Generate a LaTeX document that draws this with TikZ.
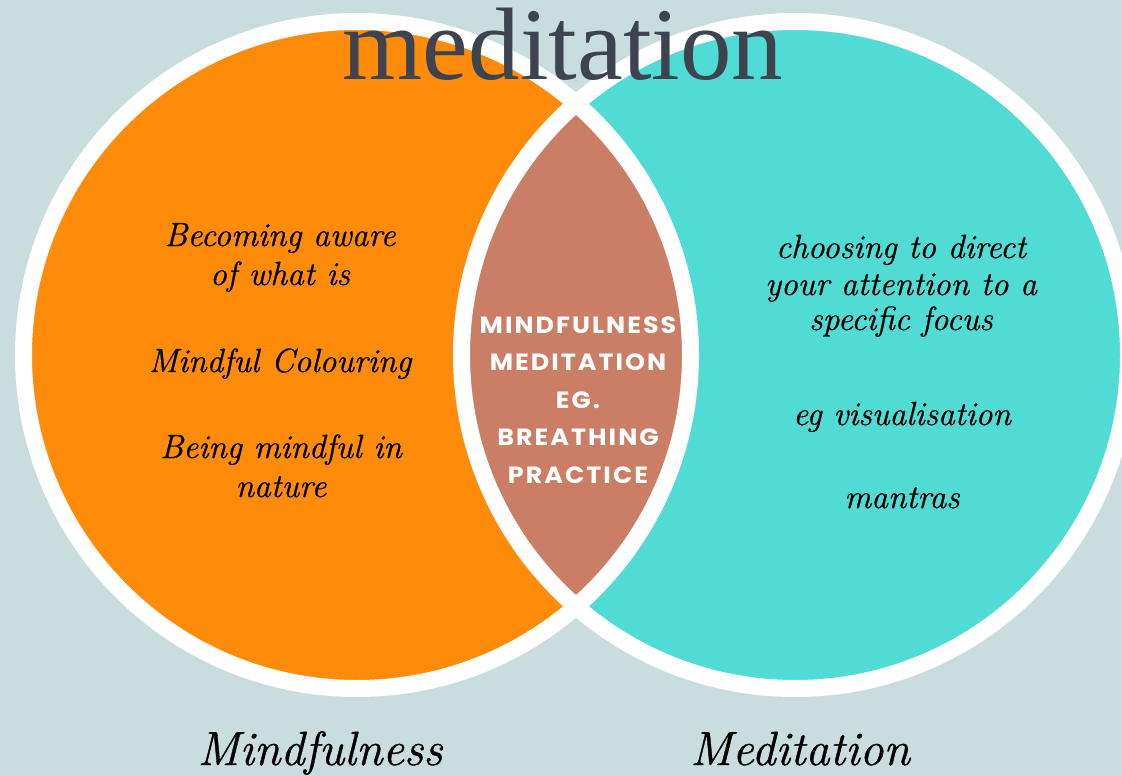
\documentclass[tikz,border=0pt]{standalone}
\usepackage{fontspec}
\newfontfamily\titlefont{Liberation Serif}
\newfontfamily\capsfont[LetterSpace=8]{Poppins}
\newfontfamily\itfont[FakeBold=0.8]{Latin Modern Roman}
\definecolor{bgc}{RGB}{201,220,222}
\definecolor{orangec}{RGB}{255,139,10}
\definecolor{cyanc}{RGB}{80,219,213}
\definecolor{brownc}{RGB}{202,126,101}
\definecolor{titlec}{RGB}{62,67,80}
\tikzset{
  ring/.style={draw=white, line width=17pt},
  itext/.style={anchor=base, inner sep=0pt, text=black, font=\itfont\fontsize{33.5}{40}\selectfont\itshape},
  ctext/.style={anchor=base, inner sep=0pt, text=white, xscale=1.08, font=\capsfont\bfseries\fontsize{23.5}{26}\selectfont},
  blabel/.style={anchor=base, inner sep=0pt, text=black, font=\itfont\fontsize{48}{56}\selectfont\itshape},
}
\begin{document}
\begin{tikzpicture}[x=1pt,y=-1pt]
\fill[bgc] (0,0) rectangle (1122,776);
\useasboundingbox (0,0) rectangle (1122,776);
\coordinate (L) at (357,355);
\coordinate (R) at (795,355);
\fill[orangec] (L) circle[radius=333.5];
\fill[cyanc] (R) circle[radius=333.5];
\begin{scope}
  \clip (L) circle[radius=333.5];
  \fill[brownc] (R) circle[radius=333.5];
\end{scope}
\draw[ring] (L) circle[radius=333.5];
\draw[ring] (R) circle[radius=333.5];
\node[anchor=base, inner sep=0pt, text=titlec, font=\titlefont\fontsize{103}{104}\selectfont] (title) at (563,79) {meditation};
% left
\node[itext] (l1) at (280,246) {Becoming aware};
\node[itext] (l2) at (280,285) {of what is};
\node[itext] (l3) at (280,372) {Mindful Colouring};
\node[itext] (l4) at (281,458) {Being mindful in};
\node[itext] (l5) at (281,497) {nature};
% right
\node[itext] (r1) at (901,258) {choosing to direct};
\node[itext] (r2) at (901,295) {your attention to a};
\node[itext] (r3) at (901,330) {specific focus};
\node[itext] (r4) at (902,425) {eg visualisation};
\node[itext] (r5) at (902,508) {mantras};
% centre
\node[ctext] (c1) at (578,333) {MINDFULNESS};
\node[ctext] (c2) at (578,370.5) {MEDITATION};
\node[ctext] (c3) at (578,408) {EG.};
\node[ctext] (c4) at (578,445.5) {BREATHING};
\node[ctext] (c5) at (578,483) {PRACTICE};
% bottom labels
\node[blabel] (bl) at (320,765) {Mindfulness};
\node[blabel] (br) at (800,765) {Meditation};
\end{tikzpicture}
\end{document}
